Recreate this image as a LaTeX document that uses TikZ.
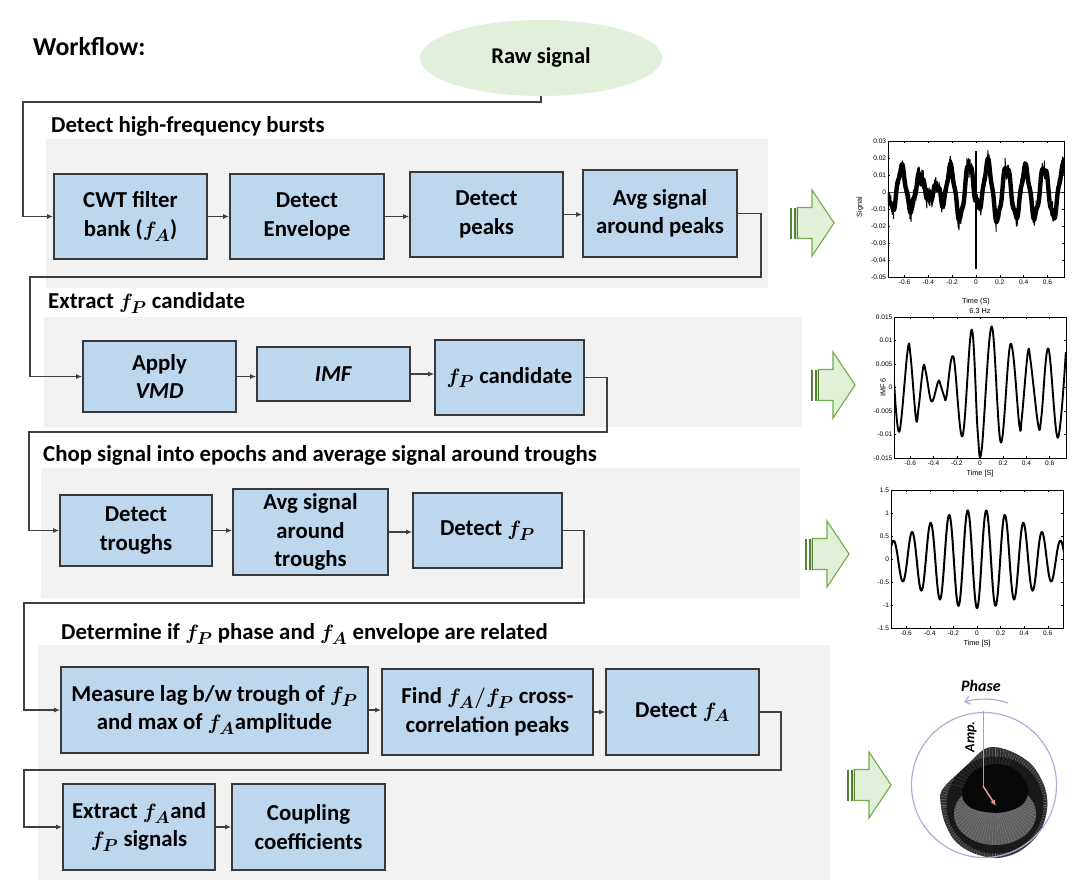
\documentclass[tikz,border=0pt]{standalone}
\usepackage{fontspec}
\setmainfont{Carlito}
\newfontfamily\plotfont{Liberation Sans}
\usepackage{bm}
\usetikzlibrary{shapes.geometric,arrows.meta}
\definecolor{panelgray}{HTML}{F2F2F2}
\definecolor{boxblue}{HTML}{BDD7EE}
\definecolor{boxline}{HTML}{383838}
\definecolor{connc}{HTML}{404040}
\definecolor{rawgreen}{HTML}{E2EFDA}
\definecolor{gfill}{HTML}{E2F0D9}
\definecolor{gline}{HTML}{70AD47}
\definecolor{gdark}{HTML}{548235}
\definecolor{lav}{HTML}{B9A9DA}
\definecolor{pinkc}{HTML}{E59A9A}
\tikzset{
  garrow/.pic={
    \fill[gdark] (0,-15.5) rectangle (2.2,15.5);
    \fill[gdark] (3.6,-15.5) rectangle (5.8,15.5);
    \draw[gline, fill=gfill, line width=1.1pt, line join=miter]
      (7.2,-15.5) -- (22,-15.5) -- (22,-33) -- (44,0) -- (22,33) -- (22,15.5) -- (7.2,15.5) -- cycle;
    \draw[gdark, line width=1.4pt] (7.2,-15.5) -- (7.2,15.5);
  },
  declare function={
    pg(\u)=(0.3+exp(max(-9,0-((\u+0.625)/0.2)^2)))*cos(2286*(\u+0.625))+0.15;
    pa(\u)=1.45+0.35*exp(max(-9,0-((\u-0.05)/0.15)^2));
    ph(\u)=pa(\u)*cos(2286*(\u-0.10))+exp(max(-9,0-((\u-0.02)/0.03)^2));
    pr(\u)=max(0,min(1,(\u+0.33)/0.08));
    pf(\u)=(1-pr(\u))*pg(\u)+pr(\u)*ph(\u)+0.22*sin(8000*\u);
  }
}
\pgfmathsetseed{11}
\begin{document}
\begin{tikzpicture}[x=1pt,y=-1pt,
  box/.style={draw=boxline, fill=boxblue, line width=1.7pt, align=center, inner sep=0pt,
              font=\fontsize{22.8}{28.5}\selectfont\bfseries},
  head/.style={anchor=west, inner sep=0pt, font=\fontsize{22.8}{26}\selectfont\bfseries},
  conn/.style={draw=connc, line width=1.3pt, -{Latex[length=6pt,width=5pt]}},
  panel/.style={fill=panelgray, draw=none},
  tick/.style={line width=0.4pt},
  ticklab/.style={font=\plotfont\fontsize{6.6}{7}\selectfont, inner sep=1pt},
  axlab/.style={font=\plotfont\fontsize{7.3}{8}\selectfont, inner sep=0pt},
]
\useasboundingbox (0,0) rectangle (1086,888);
\fill[white] (0,0) rectangle (1086,888);

% panels
\fill[panel] (46,139) rectangle (768,288);
\fill[panel] (44,317) rectangle (802,427);
\fill[panel] (41,468) rectangle (800,598);
\fill[panel] (38,645) rectangle (830,880);

% titles
\node[head, font=\fontsize{25.8}{28}\selectfont\bfseries] (wf) at (33,47) {Workflow:};
\node[head] (h1) at (51,126) {Detect high-frequency bursts};
\node[head] (h2) at (48,303) {Extract $\bm{f_P}$ candidate};
\node[head] (h3) at (43,455) {Chop signal into epochs and average signal around troughs};
\node[head] (h4) at (61,634) {Determine if $\bm{f_P}$ phase and $\bm{f_A}$ envelope are related};

% raw signal
\node[ellipse, fill=rawgreen, minimum width=242pt, minimum height=76pt, inner sep=0pt,
      font=\fontsize{22.5}{26}\selectfont\bfseries] (raw) at (541,58) {Raw signal};

% row 1
\node[box, minimum width=153pt, minimum height=85pt] (cwt) at (130.5,216.5) {CWT filter\\bank ($\bm{f_A}$)};
\node[box, minimum width=154pt, minimum height=85pt] (env) at (307,216.5) {Detect\\Envelope};
\node[box, minimum width=153pt, minimum height=85pt] (peaks) at (486.5,214.5) {Detect\\peaks};
\node[box, minimum width=154pt, minimum height=87pt] (avg) at (660,213.5) {Avg signal\\around peaks};
% row 2
\node[box, minimum width=153pt, minimum height=71pt] (vmd) at (159.5,376.5) {Apply\\\textit{VMD}};
\node[box, minimum width=153pt, minimum height=54pt] (imf) at (333.5,374) {\textit{IMF}};
\node[box, minimum width=149pt, minimum height=75pt] (fpc) at (509.5,377.5) {$\bm{f_P}$ candidate};
% row 3
\node[box, minimum width=152pt, minimum height=71pt] (troughs) at (136,530.5) {Detect\\troughs};
\node[box, minimum width=155pt, minimum height=86pt] (avgtr) at (310.5,532) {Avg signal\\around\\troughs};
\node[box, minimum width=149pt, minimum height=75pt] (detfp) at (487.5,530.5) {Detect $\bm{f_P}$};
% row 4
\node[box, minimum width=307pt, minimum height=86pt] (measure) at (214.5,710) {Measure lag b/w trough of $\bm{f_P}$\\and max of $\bm{f_A}$amplitude};
\node[box, minimum width=211pt, minimum height=86pt] (find) at (487.5,712) {Find $\bm{f_A/f_P}$ cross-\\correlation peaks};
\node[box, minimum width=153pt, minimum height=86pt] (detfa) at (682.5,712) {Detect $\bm{f_A}$};
% row 5
\node[box, minimum width=152pt, minimum height=86pt] (extract) at (139,827) {Extract $\bm{f_A}$and\\$\bm{f_P}$ signals};
\node[box, minimum width=153pt, minimum height=86pt] (coupling) at (308.5,827) {Coupling\\coefficients};

% bend coordinates
\coordinate (b1) at (23,102);
\coordinate (b2) at (761,277);
\coordinate (b3) at (30,376.5);
\coordinate (b4) at (607,432);
\coordinate (b5) at (29,530.5);
\coordinate (b6) at (584,603);
\coordinate (b7) at (24,710);
\coordinate (b8) at (781,770);
\coordinate (b9) at (24,827);

% connectors
\draw[conn] (raw.south) |- (b1) |- (cwt.west);
\draw[conn] (cwt.east) -- (cwt.east -| env.west);
\draw[conn] (env.east) -- (env.east -| peaks.west);
\draw[conn] (peaks.east) -- (peaks.east -| avg.west);
\draw[conn] (avg.east) -| (b2) -| (b3) -- (vmd.west);
\draw[conn] (vmd.east) -- (vmd.east -| imf.west);
\draw[conn] (imf.east) -- (imf.east -| fpc.west);
\draw[conn] (fpc.east) -| (b4) -| (b5) -- (troughs.west);
\draw[conn] (troughs.east) -- (troughs.east -| avgtr.west);
\draw[conn] (avgtr.east) -- (avgtr.east -| detfp.west);
\draw[conn] (detfp.east) -| (b6) -| (b7) -- (measure.west);
\draw[conn] (measure.east) -- (measure.east -| find.west);
\draw[conn] (find.east) -- (find.east -| detfa.west);
\draw[conn] (detfa.east) -| (b8) -| (b9) -- (extract.west);
\draw[conn] (extract.east) -- (extract.east -| coupling.west);

% green arrows
\pic at (790,223) {garrow};
\pic at (811,385) {garrow};
\pic at (805,554) {garrow};
\pic at (847,785) {garrow};

% ---------- plot 1 ----------
\begin{scope}[shift={(976,192)}, x=119pt, y=17pt]
  \draw[black!70, line width=0.4pt] (-0.74,0) -- (0.74,0);
  \begin{scope}
    \clip (-0.74,-5) rectangle (0.74,3);
    \draw[line width=4.4pt, line join=round] plot[domain=-0.74:0.74, samples=400, smooth] (\x,{pf(\x)});
    \draw[line width=1pt, line join=round] plot[domain=-0.74:0.74, samples=600] (\x,{pf(\x)+0.6*rand});
    \draw[line width=2.4pt] (0,2.4) -- (0,-4.5);
  \end{scope}
  \draw[line width=0.6pt] (-0.74,-5) rectangle (0.74,3);
  \foreach \t in {-0.6,-0.4,-0.2,0,0.2,0.4,0.6} {
    \draw[tick] (\t,-5) -- ++(0pt,2.2pt);
    \draw[tick] (\t,3) -- ++(0pt,-2.2pt);
    \node[ticklab, anchor=north] at (\t,-5.1) {\t};
  }
  \foreach \v/\l in {3/0.03,2/0.02,1/0.01,0/0,-1/-0.01,-2/-0.02,-3/-0.03,-4/-0.04,-5/-0.05} {
    \draw[tick] (-0.74,\v) -- ++(2.2pt,0pt);
    \draw[tick] (0.74,\v) -- ++(-2.2pt,0pt);
    \node[ticklab, anchor=east] at (-0.745,\v) {\l};
  }
  \node[axlab] (xl1) at (0,-6.45) {Time (S)};
  \node[axlab, rotate=90] (yl1) at (-0.975,-0.9) {Signal};
\end{scope}

% ---------- plot 2 ----------
\begin{scope}[shift={(980,387.5)}, x=116pt, y=4.7pt]
  \begin{scope}
    \clip (-0.74,-15) rectangle (0.74,15);
    \draw[line width=1.9pt, line join=round] plot[smooth, tension=0.6] coordinates {
      (-0.74,0.8) (-0.695,-9.4) (-0.624,7.9) (-0.60,7.0) (-0.552,-6.6) (-0.53,-4.4)
      (-0.489,4.4) (-0.465,3.0) (-0.417,-3.0) (-0.36,1.3) (-0.34,0.5) (-0.307,-2.0)
      (-0.29,-2.0) (-0.23,6.6) (-0.152,-10.4) (-0.072,12.3) (-0.02,-9.4) (0.014,-13.3)
      (0.10,13.0) (0.18,-11.7) (0.264,9.3) (0.339,-8.0) (0.36,-6.5) (0.411,7.2)
      (0.435,5.8) (0.503,-8.2) (0.53,-6.0) (0.589,8.3) (0.67,-10.7) (0.74,7.5)};
  \end{scope}
  \draw[line width=0.6pt] (-0.74,-15) rectangle (0.74,15);
  \foreach \t in {-0.6,-0.4,-0.2,0,0.2,0.4,0.6} {
    \draw[tick] (\t,-15) -- ++(0pt,2.2pt);
    \draw[tick] (\t,15) -- ++(0pt,-2.2pt);
    \node[ticklab, anchor=north] at (\t,-15.4) {\t};
  }
  \foreach \v/\l in {15/0.015,10/0.01,5/0.005,0/0,-5/-0.005,-10/-0.01,-15/-0.015} {
    \draw[tick] (-0.74,\v) -- ++(2.2pt,0pt);
    \draw[tick] (0.74,\v) -- ++(-2.2pt,0pt);
    \node[ticklab, anchor=east] at (-0.745,\v) {\l};
  }
  \node[axlab, anchor=south] (ti2) at (0,15.6) {6.3 Hz};
  \node[axlab] (xl2) at (0,-18.4) {Time [S]};
  \node[axlab, rotate=90] (yl2) at (-0.836,0) {IMF 6};
\end{scope}

% ---------- plot 3 ----------
\begin{scope}[shift={(977,559)}, x=118pt, y=46pt]
  \begin{scope}
    \clip (-0.73,-1.5) rectangle (0.73,1.5);
    \draw[line width=2pt, line join=round] plot[domain=-0.74:0.74, samples=300, smooth]
      (\x,{-1.07*exp(-\x*\x/0.506)*cos(2286*\x)});
  \end{scope}
  \draw[line width=0.6pt] (-0.73,-1.5) rectangle (0.73,1.5);
  \foreach \t in {-0.6,-0.4,-0.2,0,0.2,0.4,0.6} {
    \draw[tick] (\t,-1.5) -- ++(0pt,2.2pt);
    \draw[tick] (\t,1.5) -- ++(0pt,-2.2pt);
    \node[ticklab, anchor=north] at (\t,-1.54) {\t};
  }
  \foreach \v/\l in {1.5/1.5,1/1,0.5/0.5,0/0,-0.5/-0.5,-1/-1,-1.5/-1.5} {
    \draw[tick] (-0.73,\v) -- ++(2.2pt,0pt);
    \draw[tick] (0.73,\v) -- ++(-2.2pt,0pt);
    \node[ticklab, anchor=east] at (-0.735,\v) {\l};
  }
  \node[axlab] (xl3) at (0,-1.83) {Time [S]};
\end{scope}

% ---------- polar plot ----------
\begin{scope}
  \clip plot[smooth cycle, tension=0.55] coordinates {
    (942,790) (964,768) (987,748) (1010,751) (1032,765) (1045,788) (1047,810) (1039,833)
    (1020,851) (997,858) (973,853) (955,841) (945,823) (941,806)};
  \fill[black!82] (930,740) rectangle (1060,870);
  \foreach \a in {0,3,...,357} \draw[black!58, line width=0.5pt] (995,805) ++(\a:48) -- ++(\a:16);
  \fill[black!90] (995,805) circle (48.5);
  \fill[black!64] (995,814) ellipse (41 and 31);
  \begin{scope}
    \clip (995,814) ellipse (41 and 31);
    \foreach \a in {0,4,...,356} \draw[black!50, line width=0.4pt] (994,795) -- ++(\a:60);
  \end{scope}
  \foreach \a in {190,196,...,300} \draw[black!74, line width=0.35pt] (994,792) -- ++(\a:50);
  \fill[black!97] plot[smooth cycle, tension=0.6] coordinates {
    (962,792) (973,772) (995,764) (1016,770) (1028,788) (1023,804) (1005,812) (985,812) (968,806)};
\end{scope}
\draw[lav, line width=1.2pt] (984,785) circle (72.5);
\draw[lav!70!gray, line width=1pt] (983,711) -- (983,786);
\draw[pinkc, line width=1.5pt, -{Latex[length=6pt,width=5pt]}] (983,786) -- (996,806);
\draw[lav, line width=1.2pt, -{Straight Barb[length=5pt,width=8pt]}] (1008,703) .. controls (994,698) and (978,698) .. (964,702);
\node[font=\fontsize{16}{18}\selectfont\rmfamily\bfseries\itshape, inner sep=0pt] (phase) at (981,686) {Phase};
\node[font=\fontsize{14}{16}\selectfont\rmfamily\bfseries\itshape, inner sep=0pt, rotate=90] (amp) at (971,737) {Amp.};
\end{tikzpicture}
\end{document}
